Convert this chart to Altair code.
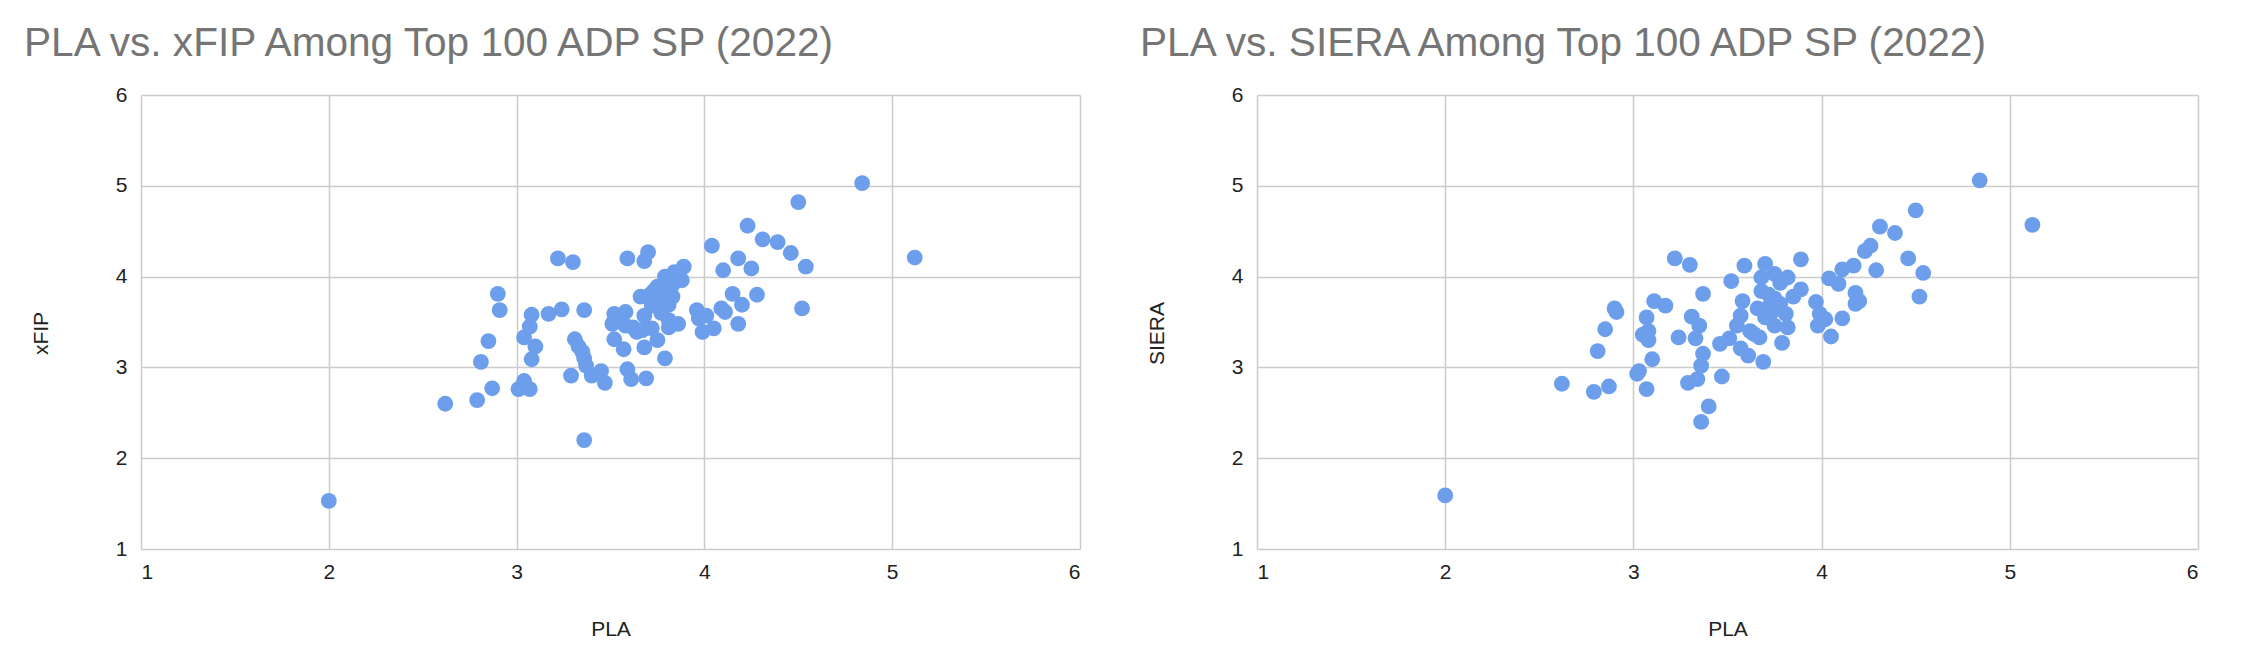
import altair as alt
import pandas as pd

# Left panel: PLA vs xFIP
pla_a = [2.00, 2.62, 2.79, 2.81, 2.85, 2.87, 2.90, 2.91, 3.01, 3.04, 3.07, 3.04, 3.07, 3.08, 3.10, 3.08,
         3.17, 3.24, 3.22, 3.30, 3.36, 3.29, 3.31, 3.33, 3.35, 3.36, 3.37, 3.40, 3.45, 3.47, 3.36, 3.59,
         3.61, 3.69, 3.79, 3.52, 3.58, 3.51, 3.58, 3.64, 3.52, 3.57, 3.68, 3.67, 3.68, 3.75, 3.81, 3.86,
         3.59, 3.70, 3.68, 3.89, 3.88, 3.79, 3.83, 3.75, 3.83, 3.76, 3.66, 3.71, 3.81, 3.78, 3.84, 3.96,
         3.97, 4.01, 3.99, 4.05, 4.09, 4.11, 4.15, 4.20, 4.18, 4.28, 4.52, 4.04, 4.10, 4.18, 4.25, 4.23,
         4.31, 4.39, 4.46, 4.54, 4.50, 4.84, 5.12, 3.73, 3.80, 3.72, 3.62, 3.55, 3.72, 3.81, 3.77]
xfip = [1.53, 2.60, 2.64, 3.06, 3.29, 2.77, 3.81, 3.63, 2.76, 2.85, 2.76, 3.33, 3.45, 3.58, 3.23, 3.09,
        3.59, 3.64, 4.20, 4.16, 3.63, 2.91, 3.31, 3.23, 3.17, 3.10, 3.02, 2.91, 2.96, 2.83, 2.20, 2.98,
        2.87, 2.88, 3.10, 3.59, 3.61, 3.48, 3.46, 3.39, 3.31, 3.20, 3.57, 3.41, 3.22, 3.30, 3.44, 3.48,
        4.20, 4.27, 4.17, 4.11, 3.96, 4.00, 3.91, 3.89, 3.78, 3.78, 3.78, 3.80, 3.69, 3.74, 4.05, 3.63,
        3.54, 3.57, 3.39, 3.43, 3.65, 3.61, 3.81, 3.69, 3.48, 3.80, 3.65, 4.34, 4.07, 4.20, 4.09, 4.56,
        4.41, 4.38, 4.26, 4.11, 4.82, 5.03, 4.21, 3.84, 3.86, 3.68, 3.44, 3.52, 3.43, 3.52, 3.60]

# Right panel: PLA vs SIERA
pla_b = [2.00, 4.84, 5.12, 4.50, 4.31, 4.39, 4.26, 4.23, 4.46, 4.29, 4.54, 4.52, 4.18, 4.20, 4.18, 4.17,
         4.11, 4.04, 4.09, 3.97, 3.99, 3.98, 4.02, 4.11, 4.05, 3.89, 3.89, 3.85, 3.82, 3.78, 3.75, 3.70,
         3.68, 3.59, 3.52, 3.37, 3.68, 3.75, 3.66, 3.71, 3.58, 3.57, 3.55, 3.81, 3.75, 3.82, 3.64, 3.67,
         3.79, 3.69, 3.51, 3.46, 3.57, 3.61, 3.47, 3.37, 3.36, 3.34, 3.29, 3.40, 3.36, 3.31, 3.35, 3.33,
         3.24, 3.22, 3.30, 3.17, 3.11, 3.07, 3.08, 3.05, 3.08, 3.10, 3.03, 3.02, 3.07, 2.90, 2.91, 2.85,
         2.81, 2.87, 2.79, 2.62, 3.72, 3.70, 3.78, 3.74, 3.62]
siera = [1.59, 5.06, 4.57, 4.73, 4.55, 4.48, 4.34, 4.28, 4.20, 4.07, 4.04, 3.78, 3.82, 3.73, 3.70, 4.12,
         4.08, 3.98, 3.92, 3.72, 3.59, 3.46, 3.53, 3.54, 3.34, 4.19, 3.86, 3.78, 3.99, 3.93, 4.03, 4.14,
         3.99, 4.12, 3.95, 3.81, 3.84, 3.76, 3.65, 3.65, 3.73, 3.57, 3.46, 3.59, 3.46, 3.44, 3.37, 3.33,
         3.27, 3.06, 3.32, 3.26, 3.21, 3.13, 2.90, 3.15, 3.02, 2.87, 2.83, 2.57, 2.40, 3.56, 3.46, 3.32,
         3.33, 4.20, 4.13, 3.68, 3.73, 3.55, 3.40, 3.36, 3.30, 3.09, 2.96, 2.93, 2.76, 3.65, 3.61, 3.42,
         3.18, 2.79, 2.73, 2.82, 3.80, 3.55, 3.70, 3.62, 3.40]

ticks = [1, 2, 3, 4, 5, 6]
FONT = "Liberation Sans"
POINT = "#6d9eeb"
H = 454


def panel(x, y, ytitle, title, width):
    df = pd.DataFrame({"PLA": x, ytitle: y})
    return alt.Chart(df).mark_circle(size=250, opacity=1, color=POINT).encode(
        x=alt.X("PLA:Q", scale=alt.Scale(domain=[1, 6], nice=False),
                axis=alt.Axis(values=ticks, title="PLA", format="d", labelPadding=12,
                              titlePadding=36)),
        y=alt.Y(f"{ytitle}:Q", scale=alt.Scale(domain=[1, 6], nice=False),
                axis=alt.Axis(values=ticks, title=ytitle, format="d", labelPadding=14,
                              titleX=-90, titleY=238)),
    ).properties(
        width=width, height=H,
        title=alt.TitleParams(title, anchor="start", offset=19, dx=-6, fontSize=40.6,
                              color="#757575", font=FONT, fontWeight="normal"),
    )


left = panel(pla_a, xfip, "xFIP", "PLA vs. xFIP Among Top 100 ADP SP (2022)", 939)
right = panel(pla_b, siera, "SIERA", "PLA vs. SIERA Among Top 100 ADP SP (2022)", 941)

chart = alt.hconcat(left, right, spacing=60).properties(
    padding={"left": 16, "top": 16, "right": 5, "bottom": 5}
).configure_view(stroke=None).configure_axis(
    grid=True, gridColor="#cccccc", gridWidth=1.5, domain=False, ticks=False,
    labelFont=FONT, labelFontSize=21, labelColor="#222222",
    titleFont=FONT, titleFontSize=21, titleFontWeight="normal", titleColor="#222222",
)

chart.save("out.html", embed_options={"renderer": "svg", "actions": False})
